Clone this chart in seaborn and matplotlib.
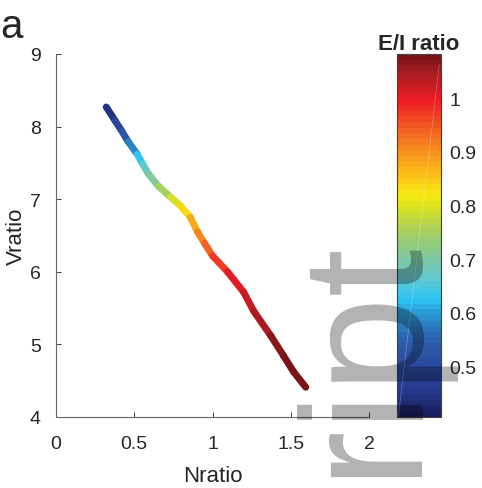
import numpy as np
import matplotlib
matplotlib.use("Agg")
import matplotlib.pyplot as plt
import seaborn as sns
from matplotlib.collections import LineCollection
from matplotlib.colors import LinearSegmentedColormap, Normalize

# trajectory
nratio = [0.321, 0.378, 0.420, 0.462, 0.519, 0.555, 0.590, 0.654, 0.731, 0.795,
          0.859, 0.904, 0.950, 1.000, 1.096, 1.199, 1.263, 1.372, 1.455, 1.519, 1.596]
vratio = [8.27, 8.08, 7.94, 7.79, 7.62, 7.48, 7.35, 7.18, 7.03, 6.91,
          6.75, 6.55, 6.39, 6.22, 6.00, 5.72, 5.46, 5.12, 4.84, 4.62, 4.41]
ei_ratio = [0.43, 0.46, 0.50, 0.55, 0.62, 0.65, 0.68, 0.73, 0.77, 0.81,
            0.86, 0.89, 0.92, 0.95, 0.99, 1.01, 1.04, 1.06, 1.07, 1.08, 1.08]

x_ticks = [0, 0.5, 1, 1.5, 2]
y_ticks = [4, 5, 6, 7, 8, 9]
cbar_ticks = [0.5, 0.6, 0.7, 0.8, 0.9, 1.0]
cbar_labels = ["0.5", "0.6", "0.7", "0.8", "0.9", "1"]
clim = (0.405, 1.083)

cmap_nodes = [0.405, 0.45, 0.50, 0.55, 0.60, 0.625, 0.66, 0.70, 0.75, 0.80,
              0.82, 0.86, 0.90, 0.95, 1.00, 1.04, 1.083]
cmap_colors = ["#1b1f5e", "#253a8f", "#2b4a9f", "#2d62ad", "#2a9fd8", "#2ec6f2",
               "#5ec8d2", "#7ec8a4", "#a5cf60", "#dde31f", "#f6eb14", "#fbbd18",
               "#f7941d", "#f15a24", "#ed1c24", "#b81e23", "#7a1416"]

sns.set_theme(style="ticks")
plt.rcParams["font.family"] = ["Liberation Sans", "DejaVu Sans"]
text_col = "#262626"

pos = [(v - clim[0]) / (clim[1] - clim[0]) for v in cmap_nodes]
cmap = LinearSegmentedColormap.from_list("ei", list(zip(pos, cmap_colors)), N=64)
norm = Normalize(*clim)

fig = plt.figure(figsize=(4.82, 4.89), dpi=100)
ax = fig.add_axes([56 / 482, 1 - 418 / 489, 313 / 482, 363 / 489])

pts = np.column_stack([nratio, vratio])
segs = np.stack([pts[:-1], pts[1:]], axis=1)
seg_val = (np.array(ei_ratio[:-1]) + np.array(ei_ratio[1:])) / 2
lc = LineCollection(segs, cmap=cmap, norm=norm, linewidths=5, capstyle="round")
lc.set_array(seg_val)
ax.add_collection(lc)

ax.set_xlim(0, 2)
ax.set_ylim(4, 9)
ax.set_xticks(x_ticks)
ax.set_xticklabels(["0", "0.5", "1", "1.5", "2"])
ax.set_yticks(y_ticks)
ax.tick_params(direction="in", length=3.6, width=0.7, color="#404040",
               labelsize=14, labelcolor=text_col)
ax.tick_params(axis="x", pad=13)
ax.tick_params(axis="y", pad=11)
sns.despine(ax=ax)
for s in ["left", "bottom"]:
    ax.spines[s].set_color("#666666")
    ax.spines[s].set_linewidth(0.8)
ax.set_xlabel("Nratio", fontsize=16, color=text_col, labelpad=9)
ax.set_ylabel("Vratio", fontsize=16, color=text_col, labelpad=2)
ax.set_facecolor("none")

# colorbar placed inside the figure, MATLAB style
cax = fig.add_axes([397 / 482, 1 - 418 / 489, 44 / 482, 363 / 489])
cb = fig.colorbar(plt.cm.ScalarMappable(norm=norm, cmap=cmap), cax=cax)
cb.set_ticks(cbar_ticks)
cb.set_ticklabels(cbar_labels)
cb.outline.set_edgecolor("#404040")
cb.outline.set_linewidth(0.8)
cax.tick_params(direction="in", length=3.6, width=0.7, color="#404040",
                labelsize=14, labelcolor=text_col, pad=6)
cax.set_title("E/I ratio", fontsize=16, fontweight="bold", color=text_col, pad=2)
cax.plot([0.96, 0.03], [0.97, 0.0], transform=cax.transAxes, color="white",
         lw=0.5, alpha=0.3)

fig.text(0.0, 1 - 38 / 489, "a", fontsize=29, color=text_col, va="baseline")

# manuscript watermark
fig.text(409 / 482, 1 - 233 / 489, "Manuscript", rotation=90, rotation_mode="anchor",
         ha="right", va="baseline", fontsize=124, color="black", alpha=0.3,
         zorder=20)

fig.savefig("out.png", dpi=100)
